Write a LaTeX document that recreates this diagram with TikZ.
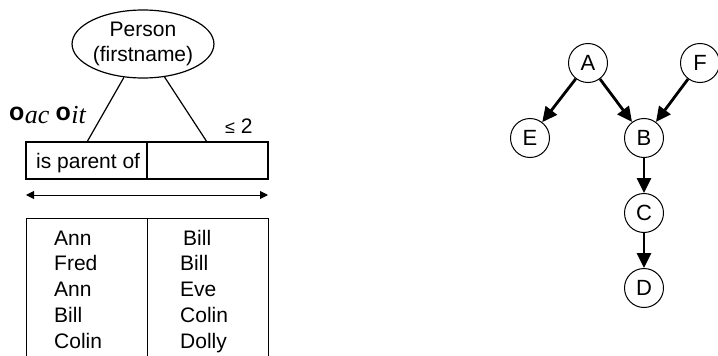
\documentclass[tikz,border=0pt]{standalone}
\usepackage{fontspec}
\setmainfont{Liberation Sans}
\newfontfamily\timesfam{Liberation Serif}
\usetikzlibrary{arrows.meta,shapes.geometric}

\tikzset{
  txt/.style={inner sep=0pt, font=\fontsize{21}{25.8}\selectfont},
  cell/.style={draw, line width=1.2pt, inner sep=0pt},
  entity/.style={ellipse, draw, line width=1.2pt, minimum width=138pt, minimum height=68pt,
                 inner sep=0pt, align=center, font=\fontsize{21}{25}\selectfont},
  vertex/.style={circle, draw, line width=1pt, minimum size=39pt, inner sep=0pt,
                 font=\fontsize{22}{22}\selectfont},
  dep/.style={-{Triangle[length=15pt,width=14pt]}, line width=2.8pt},
  span/.style={{Triangle[length=8pt,width=8pt]}-{Triangle[length=8pt,width=8pt]}, line width=1pt}
}
\newcommand{\ringsym}[1]{\raisebox{3pt}{\fontsize{25}{25}\selectfont\bfseries o}\kern0.5pt{\timesfam\itshape\fontsize{26}{26}\selectfont #1}}

\begin{document}
\begin{tikzpicture}[x=1pt,y=-1pt]
\useasboundingbox (0,0) rectangle (718,356);
\clip (0,0) rectangle (718,356);

% entity type and its role box
\node[entity] (person) at (143,44) {Person\\(firstname)};
\node[cell, minimum width=121pt, minimum height=37pt] (role1) at (86.5,160.5) {};
\node[cell, minimum width=121pt, minimum height=37pt] (role2) at (207.5,160.5) {};
\node[txt, anchor=base west] (rolename) at (36,168) {is parent of};
\coordinate (c1) at (87,142);
\coordinate (c2) at (207,142);
\draw[line width=1.2pt] (person) -- (c1);
\draw[line width=1.2pt] (person) -- (c2);

% ring constraints and frequency constraint
\node[inner sep=0pt, anchor=base west] (ring) at (9,123)
  {\ringsym{ac}\hspace{6pt}\ringsym{it}};
\node[txt, anchor=base west] (freq) at (225,133) {{\fontsize{18}{18}\selectfont ≤} 2};

% uniqueness span arrow
\coordinate (u1) at (26,195);
\coordinate (u2) at (268,195);
\draw[span] (u1) -- (u2);

% population table
\node[cell, minimum width=121pt, minimum height=160pt, anchor=north west] (col1) at (26,218) {};
\node[cell, minimum width=121pt, minimum height=160pt, anchor=north west] (col2) at (147,218) {};
\foreach \i/\p/\c/\dx in {1/Ann/Bill/3, 2/Fred/Bill/0, 3/Ann/Eve/0, 4/Bill/Colin/0, 5/Colin/Dolly/0} {
  \node[txt, anchor=base west] (p\i) at (54,{245+25.75*(\i-1)}) {\p};
  \node[txt, anchor=base west] (c\i) at ({180+\dx},{245+25.75*(\i-1)}) {\c};
}

% parenthood graph
\node[vertex] (A) at (588,63) {A};
\node[vertex] (F) at (700,63) {F};
\node[vertex] (E) at (530,138) {E};
\node[vertex] (B) at (644,138) {B};
\node[vertex] (C) at (644,213) {C};
\node[vertex] (D) at (644,288) {D};
\draw[dep] (A) -- (E);
\draw[dep] (A) -- (B);
\draw[dep] (F) -- (B);
\draw[dep] (B) -- (C);
\draw[dep] (C) -- (D);
\end{tikzpicture}
\end{document}
